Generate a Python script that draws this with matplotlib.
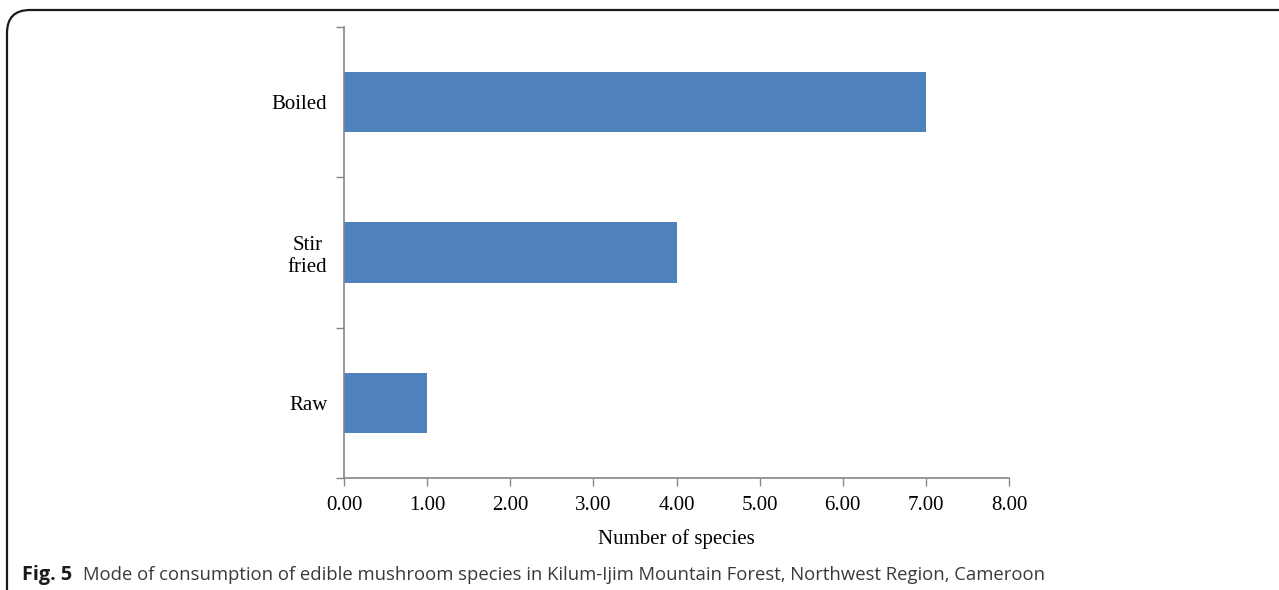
import matplotlib.pyplot as plt
from matplotlib.patches import FancyBboxPatch

categories = ['Raw', 'Stir\nfried', 'Boiled']
species = [1, 4, 7]
x_ticks = [0, 1, 2, 3, 4, 5, 6, 7, 8]

axis_grey = '#868686'
bar_blue = '#4F81BD'

fig = plt.figure(figsize=(12.79, 5.90), dpi=100)

# rounded frame around the figure (only top-left corner visible)
frame = FancyBboxPatch((7 / 1279, -0.2), 1.2, 1 - 10 / 590 + 0.2,
                       boxstyle='round,pad=0,rounding_size=0.018',
                       transform=fig.transFigure, fill=False,
                       edgecolor='#1a1a1a', linewidth=1.6, mutation_aspect=2.17)
fig.patches.append(frame)

ax = fig.add_axes([344 / 1279, 1 - 478 / 590, 665 / 1279, 451 / 590])
ax.barh(range(len(categories)), species, height=0.4, color=bar_blue)

ax.set_xlim(0, 8)
ax.set_ylim(-0.5, 2.5)
ax.set_xticks(x_ticks)
ax.set_xticklabels([f'{v:.2f}' for v in x_ticks], fontfamily='Liberation Serif', fontsize=15)
ax.set_yticks(range(len(categories)))
ax.set_yticklabels(categories, fontfamily='Liberation Serif', fontsize=15,
                   multialignment='center', linespacing=1.25)
ax.set_yticks([-0.5, 0.5, 1.5, 2.5], minor=True)
ax.tick_params(axis='y', which='major', length=0, pad=12)
ax.tick_params(axis='y', which='minor', length=6, color=axis_grey, width=1)
ax.tick_params(axis='x', length=6, color=axis_grey, width=1, pad=7)
ax.set_xlabel('Number of species', fontfamily='Liberation Serif', fontsize=15, labelpad=10)

for side in ['top', 'right']:
    ax.spines[side].set_visible(False)
for side in ['left', 'bottom']:
    ax.spines[side].set_color(axis_grey)
    ax.spines[side].set_linewidth(1.2)

fig.text(22 / 1279, 1 - 580 / 590, 'Fig. 5', fontfamily='Open Sans', fontweight='bold',
         fontsize=14.3, color='#1a1a1a', va='baseline')
fig.text(83 / 1279, 1 - 580 / 590,
         'Mode of consumption of edible mushroom species in Kilum-Ijim Mountain Forest, Northwest Region, Cameroon',
         fontfamily='Open Sans', fontsize=13.35, color='#3a3a3a', va='baseline')

fig.savefig('out.png', dpi=100)
